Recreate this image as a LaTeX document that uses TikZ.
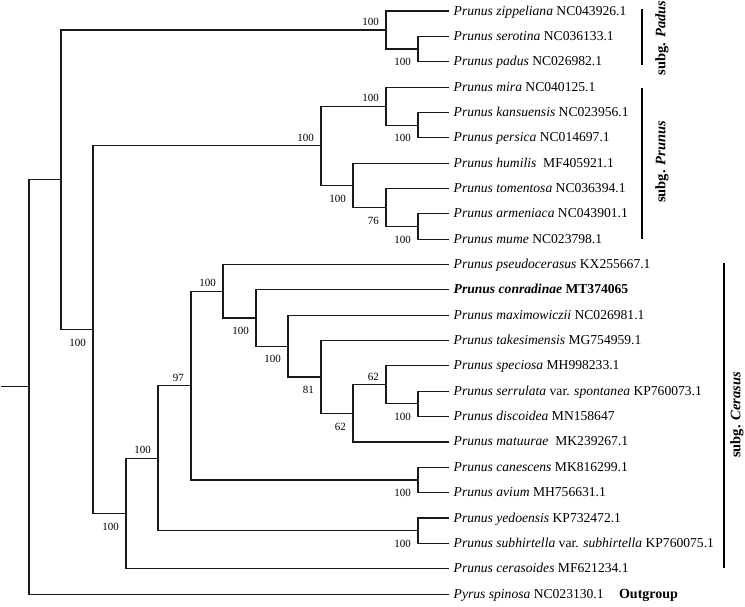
\documentclass[tikz,border=0pt]{standalone}
\usepackage{fontspec}
\setmainfont{Liberation Serif}
\usetikzlibrary{positioning}

\tikzset{
  branch/.style={line width=1.1pt, color=black!90},
  cladebar/.style={line width=1.6pt},
  tip/.style={anchor=west, inner xsep=4.5pt, inner ysep=0pt, text height=9.5pt, text depth=1.5pt, font=\fontsize{13.6}{16}\selectfont},
  bsup/.style={anchor=south east, inner sep=0pt, xshift=-7pt, yshift=4pt, font=\fontsize{11}{13}\selectfont},
  bsdown/.style={anchor=north east, inner sep=0pt, xshift=-7pt, yshift=-9.3pt, font=\fontsize{11}{13}\selectfont},
  subg/.style={rotate=90, inner sep=0pt, font=\bfseries\fontsize{14.5}{17}\selectfont}
}

\begin{document}
\begin{tikzpicture}[x=1pt,y=-1pt]
	\useasboundingbox (0,0) rectangle (745,606);
	%% tips
	\node[tip] (zip) at (449,11) {\textit{Prunus zippeliana} NC043926.1};
	\node[tip] (ser) at (449,36.35) {\textit{Prunus serotina} NC036133.1};
	\node[tip] (pad) at (449,61.7) {\textit{Prunus padus} NC026982.1};
	\node[tip] (mir) at (449,87.05) {\textit{Prunus mira} NC040125.1};
	\node[tip] (kan) at (449,112.4) {\textit{Prunus kansuensis} NC023956.1};
	\node[tip] (per) at (449,137.75) {\textit{Prunus persica} NC014697.1};
	\node[tip] (hum) at (449,163.1) {\textit{Prunus humilis}\ \ MF405921.1};
	\node[tip] (tom) at (449,188.45) {\textit{Prunus tomentosa} NC036394.1};
	\node[tip] (arm) at (449,213.8) {\textit{Prunus armeniaca} NC043901.1};
	\node[tip] (mum) at (449,239.15) {\textit{Prunus mume} NC023798.1};
	\node[tip] (pse) at (449,264.5) {\textit{Prunus pseudocerasus} KX255667.1};
	\node[tip] (con) at (449,289.85) {\textbf{\textit{Prunus conradinae} MT374065}};
	\node[tip] (max) at (449,315.2) {\textit{Prunus maximowiczii} NC026981.1};
	\node[tip] (tak) at (449,340.55) {\textit{Prunus takesimensis} MG754959.1};
	\node[tip] (spe) at (449,365.9) {\textit{Prunus speciosa} MH998233.1};
	\node[tip] (srr) at (449,391.25) {\textit{Prunus serrulata} var. \textit{spontanea} KP760073.1};
	\node[tip] (dis) at (449,416.6) {\textit{Prunus discoidea} MN158647};
	\node[tip] (mat) at (449,441.95) {\textit{Prunus matuurae}\ \ MK239267.1};
	\node[tip] (can) at (449,467.3) {\textit{Prunus canescens} MK816299.1};
	\node[tip] (avi) at (449,492.65) {\textit{Prunus avium} MH756631.1};
	\node[tip] (yed) at (449,518) {\textit{Prunus yedoensis} KP732472.1};
	\node[tip] (sub) at (449,543.35) {\textit{Prunus subhirtella} var. \textit{subhirtella} KP760075.1};
	\node[tip] (cer) at (449,568.7) {\textit{Prunus cerasoides} MF621234.1};
	\node[tip] (pyr) at (449,594.05) {\textit{Pyrus spinosa} NC023130.1};
	\node[tip, right=6pt of pyr, font=\bfseries\fontsize{14}{16}\selectfont] (outg) {Outgroup};
	%% internal nodes
	\coordinate (sp) at (418,49.0);
	\coordinate (pd) at (386,30);
	\coordinate (kp) at (418,125.1);
	\coordinate (mk) at (386,106.1);
	\coordinate (am) at (418,226.5);
	\coordinate (ta) at (386,207.5);
	\coordinate (ht) at (353,185.3);
	\coordinate (pr) at (321,145.7);
	\coordinate (sd) at (418,403.9);
	\coordinate (ss) at (386,384.9);
	\coordinate (sm) at (353,413.4);
	\coordinate (ts) at (321,377);
	\coordinate (mt) at (288,346.1);
	\coordinate (cm) at (256,318);
	\coordinate (pc) at (223,291.2);
	\coordinate (ca) at (418,480);
	\coordinate (c97) at (191,385.6);
	\coordinate (ys) at (418,530.7);
	\coordinate (c100) at (158,458.1);
	\coordinate (ce) at (126,513.4);
	\coordinate (pce) at (93,329.5);
	\coordinate (ing) at (61,179.8);
	\coordinate (root) at (29,386.9);
	\coordinate (stem) at (1,386.9);
	%% branches
	\draw[branch] (sp) |- (ser.west) (sp) |- (pad.west);
	\draw[branch] (pd) |- (zip.west) (pd) |- (sp);
	\draw[branch] (kp) |- (kan.west) (kp) |- (per.west);
	\draw[branch] (mk) |- (mir.west) (mk) |- (kp);
	\draw[branch] (am) |- (arm.west) (am) |- (mum.west);
	\draw[branch] (ta) |- (tom.west) (ta) |- (am);
	\draw[branch] (ht) |- (hum.west) (ht) |- (ta);
	\draw[branch] (pr) |- (mk) (pr) |- (ht);
	\draw[branch] (sd) |- (srr.west) (sd) |- (dis.west);
	\draw[branch] (ss) |- (spe.west) (ss) |- (sd);
	\draw[branch] (sm) |- (ss) (sm) |- (mat.west);
	\draw[branch] (ts) |- (tak.west) (ts) |- (sm);
	\draw[branch] (mt) |- (max.west) (mt) |- (ts);
	\draw[branch] (cm) |- (con.west) (cm) |- (mt);
	\draw[branch] (pc) |- (pse.west) (pc) |- (cm);
	\draw[branch] (ca) |- (can.west) (ca) |- (avi.west);
	\draw[branch] (c97) |- (pc) (c97) |- (ca);
	\draw[branch] (ys) |- (yed.west) (ys) |- (sub.west);
	\draw[branch] (c100) |- (c97) (c100) |- (ys);
	\draw[branch] (ce) |- (c100) (ce) |- (cer.west);
	\draw[branch] (pce) |- (pr) (pce) |- (ce);
	\draw[branch] (ing) |- (pd) (ing) |- (pce);
	\draw[branch] (root) |- (ing) (root) |- (pyr.west);
	\draw[branch] (stem) -- (root);
	%% support values
	\node[bsup] (b-pd) at (pd) {100};
	\node[bsup] (b-mk) at (mk) {100};
	\node[bsup] (b-pr) at (pr) {100};
	\node[bsup] (b-pc) at (pc) {100};
	\node[bsup] (b-c97) at (c97) {97};
	\node[bsup] (b-c100) at (c100) {100};
	\node[bsup] (b-ss) at (ss) {62};
	\node[bsdown] (b-sp) at (sp) {100};
	\node[bsdown] (b-kp) at (kp) {100};
	\node[bsdown] (b-ht) at (ht) {100};
	\node[bsdown] (b-ta) at (ta) {76};
	\node[bsdown] (b-am) at (am) {100};
	\node[bsdown] (b-cm) at (cm) {100};
	\node[bsdown] (b-mt) at (mt) {100};
	\node[bsdown] (b-ts) at (ts) {81};
	\node[bsdown] (b-sm) at (sm) {62};
	\node[bsdown] (b-sd) at (sd) {100};
	\node[bsdown] (b-ca) at (ca) {100};
	\node[bsdown] (b-ys) at (ys) {100};
	\node[bsdown] (b-ce) at (ce) {100};
	\node[bsdown] (b-pce) at (pce) {100};
	%% clade bars
	\coordinate (padtop) at (642,9);
	\coordinate (padbot) at (642,65);
	\coordinate (prutop) at (642,88);
	\coordinate (prubot) at (642,239);
	\coordinate (certop) at (724,263);
	\coordinate (cerbot) at (724,568);
	\draw[cladebar] (padtop) -- (padbot);
	\draw[cladebar] (prutop) -- (prubot);
	\draw[cladebar] (certop) -- (cerbot);
	\node[subg] (l-pad) at (662,38) {subg. \textit{Padus}};
	\node[subg] (l-pru) at (662,162) {subg. \textit{Prunus}};
	\node[subg] (l-cer) at (737,415) {subg. \textit{Cerasus}};
\end{tikzpicture}
\end{document}
